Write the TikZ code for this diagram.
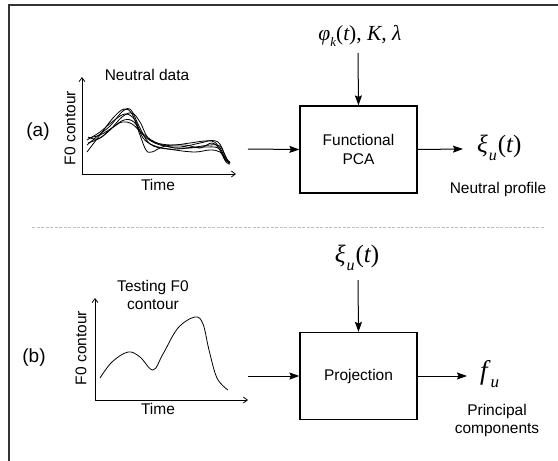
\documentclass[tikz,border=0pt]{standalone}
\usepackage{fontspec}
\setmainfont{Liberation Sans}
\newfontfamily\mf{Liberation Serif}
\usetikzlibrary{arrows.meta}
\newcommand{\sub}[2]{\raisebox{-0.3em}{\fontsize{#1}{#1}\selectfont\mf\itshape #2}}
\begin{document}
\begin{tikzpicture}[x=1pt,y=-1pt,
  txt/.style={font=\fontsize{15.5}{18}\selectfont, inner sep=0pt, align=center},
  lab/.style={font=\fontsize{19}{21}\selectfont, inner sep=0pt},
  mth/.style={font=\fontsize{25}{27}\selectfont\mf, inner sep=0pt},
  blk/.style={draw, line width=1.2pt, minimum width=117pt, minimum height=87pt, inner sep=0pt, font=\fontsize{15.5}{19}\selectfont, align=center},
  flow/.style={line width=1pt, -{Stealth[length=10pt,width=7pt,inset=1.5pt]}},
  axis/.style={line width=0.8pt, -{Straight Barb[length=4pt,width=6pt]}},
  crv/.style={line width=0.8pt, smooth, tension=0.6}]
\useasboundingbox (0,0) rectangle (558,461);
% frame
\draw[line width=2pt, black!80] (9,461) -- (9,5) -- (558,5);
\draw[black!25, line width=0.8pt, dash pattern=on 3pt off 1.5pt] (32,227) -- (545,227);

% ---------- (a) ----------
\node[lab] (la) at (38,132) {(a)};
\node[txt] (nd) at (147,75) {Neutral data};
\coordinate (o1) at (82,174);
\coordinate (ya) at (82,77);
\coordinate (xa) at (236,174);
\draw[axis] (o1) -- (ya);
\draw[axis] (o1) -- (xa);
\node[txt, rotate=90] (yla) at (70,128) {F0 contour};
\node[txt] (xla) at (158,185) {Time};
\draw[crv] plot coordinates {(87,152) (100,135) (113,118) (124,109) (132,114) (140,135) (146,150) (152,152) (165,146) (185,145) (200,148) (212,143) (220,150) (226,162) (230,164)};
\draw[crv] plot coordinates {(87,140) (100,132) (112,122) (125,114) (135,120) (143,138) (155,146) (175,150) (195,152) (210,150) (220,152) (225,160) (230,163)};
\draw[crv] plot coordinates {(88,143) (100,138) (112,128) (124,120) (134,122) (144,136) (160,145) (180,147) (200,143) (212,141) (220,148) (226,160) (230,163)};
\draw[crv] plot coordinates {(88,138) (100,135) (112,128) (122,122) (132,124) (142,133) (155,142) (175,148) (195,147) (210,145) (220,146) (226,158) (230,162)};
\draw[crv] plot coordinates {(88,137) (98,139) (110,130) (122,117) (132,113) (140,122) (150,140) (170,145) (190,143) (205,141) (218,142) (225,155) (229,164)};
\draw[crv] plot coordinates {(87,145) (100,134) (110,126) (123,111) (131,110) (139,126) (150,144) (168,149) (190,148) (205,147) (218,148) (224,157) (230,163)};

\node[blk] (fpca) at (358.5,149.5) {Functional\\PCA};
\node[mth, font=\fontsize{21.5}{23}\selectfont\mf] (phi) at (360,36) {\itshape φ\sub{13}{k}\upshape(\itshape t\upshape), \itshape K\upshape, \itshape λ};
\coordinate (phis) at (358,53);
\coordinate (ina) at (248,149);
\coordinate (outa) at (463,149);
\draw[flow] (phis) -- (fpca.north);
\draw[flow] (ina) -- (fpca.west);
\draw[flow] (fpca.east) -- (outa);
\node[mth, anchor=west] (xia) at (477,148) {\itshape ξ\kern1pt\sub{16}{u}\kern1pt\upshape(\itshape t\upshape)};
\node[txt] (np) at (498,189) {Neutral profile};

% ---------- (b) ----------
\node[lab] (lb) at (34,358) {(b)};
\node[txt] (tf) at (153,295) {Testing F0\\contour};
\coordinate (o2) at (95,400);
\coordinate (yb) at (95,298);
\coordinate (xb) at (248,400);
\draw[axis] (o2) -- (yb);
\draw[axis] (o2) -- (xb);
\node[txt, rotate=90] (ylb) at (81,348) {F0 contour};
\node[txt] (xlb) at (158,409) {Time};
\draw[crv] plot coordinates {(100,378) (112,362) (128,352) (140,357) (153,370) (163,354) (178,328) (195,317) (203,324) (209,350) (217,378) (228,390)};

\node[blk] (proj) at (358.5,376) {Projection};
\node[mth] (xib) at (357,258) {\itshape ξ\kern1pt\sub{16}{u}\kern1pt\upshape(\itshape t\upshape)};
\coordinate (xibs) at (358,280);
\coordinate (inb) at (248,376);
\coordinate (outb) at (467,376);
\draw[flow] (xibs) -- (proj.north);
\draw[flow] (inb) -- (proj.west);
\draw[flow] (proj.east) -- (outb);
\node[mth, anchor=west, font=\fontsize{27}{29}\selectfont\mf] (fu) at (480,374) {\itshape f\kern3pt\sub{17}{u}};
\node[txt] (pc) at (497,420) {Principal\\components};
\end{tikzpicture}
\end{document}
